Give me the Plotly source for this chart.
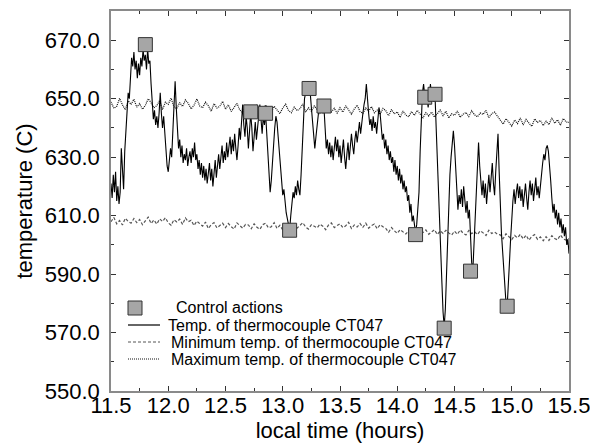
import plotly.graph_objects as go

# ---------------- data ----------------
# Temperature of thermocouple CT047, sampled every 0.01 h from 11.50 h; one row = 0.1 h
temp_rows = [
    [621, 616, 624, 618, 625, 615, 620, 614, 618, 633],  # 11.5
    [626, 619, 632, 640, 646, 652, 650, 658, 664, 661],  # 11.6
    [666, 660, 663, 657, 662, 658, 664, 661, 667, 663],  # 11.7
    [665, 660, 667, 662, 663, 655, 647, 643, 646, 641],  # 11.8
    [644, 640, 645, 652, 645, 640, 644, 637, 631, 627],  # 11.9
    [625, 629, 633, 630, 638, 645, 656, 647, 638, 633],  # 12.0
    [636, 630, 634, 628, 631, 629, 633, 627, 630, 632],  # 12.1
    [628, 633, 630, 635, 629, 631, 626, 629, 624, 628],  # 12.2
    [623, 627, 622, 626, 621, 624, 628, 622, 626, 620],  # 12.3
    [625, 629, 623, 627, 631, 626, 630, 634, 628, 632],  # 12.4
    [629, 635, 630, 633, 637, 631, 636, 632, 638, 633],  # 12.5
    [629, 634, 640, 636, 643, 648, 641, 637, 644, 640],  # 12.6
    [633, 638, 645, 640, 632, 637, 642, 636, 641, 646],  # 12.7
    [648, 643, 638, 644, 641, 645, 637, 630, 624, 618],  # 12.8
    [622, 629, 636, 640, 644, 642, 637, 631, 626, 621],  # 12.9
    [617, 619, 614, 611, 609, 607, 605, 610, 614, 618],  # 13.0
    [616, 620, 617, 622, 619, 617, 624, 635, 645, 650],  # 13.1
    [652, 655, 656, 654, 652, 647, 642, 636, 633, 637],  # 13.2
    [641, 645, 648, 646, 649, 645, 647, 640, 633, 636],  # 13.3
    [631, 635, 630, 634, 629, 633, 637, 632, 636, 630],  # 13.4
    [634, 628, 632, 636, 630, 626, 631, 635, 629, 633],  # 13.5
    [638, 634, 631, 636, 639, 635, 640, 642, 638, 643],  # 13.6
    [645, 648, 650, 655, 649, 645, 641, 643, 639, 644],  # 13.7
    [640, 642, 638, 644, 647, 645, 640, 636, 638, 633],  # 13.8
    [636, 631, 634, 629, 632, 628, 630, 625, 629, 624],  # 13.9
    [627, 622, 626, 621, 624, 619, 622, 618, 620, 615],  # 14.0
    [617, 611, 614, 608, 610, 606, 604, 607, 612, 618],  # 14.1
    [632, 645, 652, 655, 651, 653, 650, 647, 651, 655],  # 14.2
    [650, 653, 649, 651, 640, 628, 618, 608, 597, 587],  # 14.3
    [577, 572, 578, 590, 603, 615, 624, 630, 636, 639],  # 14.4
    [634, 626, 618, 612, 617, 614, 619, 613, 620, 616],  # 14.5
    [611, 615, 609, 612, 603, 594, 591, 600, 610, 622],  # 14.6
    [629, 635, 627, 620, 617, 622, 616, 621, 614, 619],  # 14.7
    [624, 618, 622, 628, 621, 617, 625, 631, 638, 625],  # 14.8
    [612, 604, 598, 592, 585, 580, 579, 585, 594, 602],  # 14.9
    [610, 615, 619, 614, 618, 621, 616, 620, 615, 619],  # 15.0
    [613, 617, 621, 616, 612, 618, 622, 617, 621, 615],  # 15.1
    [619, 623, 617, 620, 616, 621, 625, 628, 631, 629],  # 15.2
    [633, 634, 632, 628, 622, 616, 611, 614, 609, 612],  # 15.3
    [607, 611, 606, 609, 604, 607, 603, 606, 600, 602],  # 15.4
    [597],                                               # 15.5
]
temp_start, temp_step = 11.5, 0.01

# Maximum temperature of CT047, every 0.025 h from 11.5 h; one row = 0.2 h
max_rows = [
    [648.9, 646.7, 647.4, 650.1, 647.9, 646.2, 649.3, 648.0],  # 11.5
    [649.8, 647.1, 648.3, 646.4, 647.7, 650.0, 648.6, 646.9],  # 11.7
    [647.6, 649.4, 646.3, 648.8, 648.1, 650.2, 647.2, 646.6],  # 11.9
    [648.7, 647.3, 649.6, 648.4, 646.5, 647.8, 649.9, 647.5],  # 12.1
    [646.9, 648.8, 647.6, 645.7, 648.3, 646.8, 647.4, 649.1],  # 12.3
    [646.4, 647.9, 645.6, 646.8, 648.4, 646.1, 645.3, 647.6],  # 12.5
    [647.2, 645.4, 646.9, 648.0, 646.3, 645.7, 647.8, 646.5],  # 12.7
    [645.6, 647.4, 646.2, 644.9, 646.8, 648.1, 646.0, 645.2],  # 12.9
    [647.1, 645.9, 646.6, 648.2, 645.4, 646.9, 645.7, 647.5],  # 13.1
    [646.3, 644.8, 647.2, 646.0, 647.9, 645.5, 646.7, 645.1],  # 13.3
    [646.9, 645.4, 647.6, 646.2, 644.7, 646.5, 647.8, 645.6],  # 13.5
    [645.0, 646.8, 645.7, 647.3, 645.2, 646.1, 644.6, 646.7],  # 13.7
    [645.9, 644.2, 646.3, 644.8, 645.5, 643.6, 645.8, 644.4],  # 13.9
    [643.8, 645.6, 644.3, 646.0, 644.7, 643.5, 645.2, 644.1],  # 14.1
    [645.4, 643.7, 644.9, 646.1, 644.2, 645.7, 643.4, 644.8],  # 14.3
    [644.3, 645.8, 643.6, 644.7, 645.3, 643.9, 645.9, 644.5],  # 14.5
    [643.8, 645.1, 644.6, 646.0, 643.5, 644.9, 645.4, 643.9],  # 14.7
    [642.8, 641.3, 643.2, 642.0, 640.6, 642.7, 641.5, 643.4],  # 14.9
    [641.0, 642.9, 641.7, 640.5, 643.1, 641.9, 642.6, 640.8],  # 15.1
    [642.3, 641.1, 643.5, 641.6, 642.8, 640.9, 643.2, 642.0],  # 15.3
    [641.9],                                                   # 15.5
]
# Minimum temperature of CT047, same sampling
min_rows = [
    [607.9, 609.4, 607.2, 608.3, 606.8, 609.1, 608.0, 607.4],  # 11.5
    [609.0, 607.6, 608.7, 606.9, 608.2, 609.5, 607.3, 608.5],  # 11.7
    [607.1, 608.9, 608.0, 609.3, 607.5, 606.7, 608.6, 607.8],  # 11.9
    [608.8, 607.0, 609.2, 607.9, 608.4, 606.6, 608.1, 607.3],  # 12.1
    [606.4, 607.8, 605.6, 606.9, 607.6, 605.8, 606.5, 607.4],  # 12.3
    [605.9, 607.3, 606.2, 605.4, 607.5, 606.6, 605.7, 607.0],  # 12.5
    [606.8, 605.5, 607.2, 606.0, 605.3, 606.9, 607.4, 605.8],  # 12.7
    [606.2, 607.6, 605.6, 606.7, 605.1, 606.4, 607.3, 605.9],  # 12.9
    [607.0, 605.7, 606.5, 607.6, 606.1, 605.4, 606.9, 606.3],  # 13.1
    [605.8, 607.1, 606.4, 605.2, 606.8, 607.5, 605.9, 606.6],  # 13.3
    [607.2, 605.9, 606.5, 607.7, 605.6, 606.8, 606.1, 607.3],  # 13.5
    [606.0, 607.4, 605.7, 606.6, 607.1, 605.5, 606.9, 606.2],  # 13.7
    [605.6, 604.3, 605.9, 604.8, 603.9, 605.2, 604.5, 603.7],  # 13.9
    [604.9, 603.4, 604.6, 605.3, 603.8, 604.2, 605.1, 603.6],  # 14.1
    [604.4, 605.2, 603.5, 604.8, 603.9, 605.0, 604.1, 603.3],  # 14.3
    [604.7, 603.6, 605.1, 604.0, 603.4, 604.9, 603.8, 604.5],  # 14.5
    [603.5, 604.8, 604.1, 603.2, 605.0, 603.9, 604.4, 603.6],  # 14.7
    [603.4, 602.1, 603.8, 602.6, 601.8, 603.2, 602.4, 603.6],  # 14.9
    [602.0, 603.3, 601.6, 602.9, 603.5, 601.9, 602.7, 601.4],  # 15.1
    [602.8, 601.5, 603.1, 602.2, 601.7, 603.4, 602.0, 601.6],  # 15.3
    [602.2],                                                   # 15.5
]
band_start, band_step = 11.5, 0.025

# Control actions
ctrl_time = [11.80, 12.72, 12.85, 13.06, 13.23, 13.36, 14.16, 14.24, 14.33, 14.41, 14.64, 14.96]
ctrl_temp = [668.5, 645.5, 645.0, 605.0, 653.5, 647.5, 603.5, 650.5, 651.5, 571.5, 591.0, 579.0]

y_ticks = [550, 570, 590, 610, 630, 650, 670]
x_ticks = [11.5, 12.0, 12.5, 13.0, 13.5, 14.0, 14.5, 15.0, 15.5]

legend_labels = ["Control actions",
                 "Temp. of thermocouple CT047",
                 "Minimum temp. of thermocouple CT047",
                 "Maximum temp. of thermocouple CT047"]

# ---------------- build series ----------------
def flatten(rows):
    return [v for r in rows for v in r]

temp_v = flatten(temp_rows)
temp_t = [round(temp_start + temp_step * i, 3) for i in range(len(temp_v))]
max_v = flatten(max_rows)
max_t = [round(band_start + band_step * i, 4) for i in range(len(max_v))]
min_v = flatten(min_rows)
min_t = [round(band_start + band_step * i, 4) for i in range(len(min_v))]

FONT = "Liberation Sans, Arial, sans-serif"

MAX_LINE = dict(color="#111111", width=1.2, dash="1px,1px")
MIN_LINE = dict(color="#555555", width=1.2, dash="3px,2px")

fig = go.Figure()
fig.add_trace(go.Scatter(x=max_t, y=max_v, mode="lines", line=MAX_LINE, showlegend=False))
fig.add_trace(go.Scatter(x=min_t, y=min_v, mode="lines", line=MIN_LINE, showlegend=False))
fig.add_trace(go.Scatter(x=temp_t, y=temp_v, mode="lines",
                         line=dict(color="black", width=1.1), showlegend=False))
fig.add_trace(go.Scatter(x=ctrl_time, y=ctrl_temp, mode="markers",
                         marker=dict(symbol="square", size=14, color="#a6a6a6",
                                     line=dict(color="#333333", width=1)),
                         showlegend=False))

# ---------------- custom legend (paper coordinates) ----------------
L, T, W, H = 111, 11, 458, 380
def px(xp):
    return (xp - L) / W
def py(yp):
    return (T + H - yp) / H

fig.add_shape(type="rect", xref="paper", yref="paper",
              x0=px(128), x1=px(142), y0=py(315), y1=py(301),
              fillcolor="#a6a6a6", line=dict(color="#333333", width=1))
leg_rows = [
    (307, 175, None),
    (325, 167, dict(color="black", width=1.2)),
    (342, 170, dict(color="#555555", width=1, dash="3px,2px")),
    (359, 170, dict(color="#111111", width=1, dash="1px,1px")),
]
for (yy, tx, ln), lab in zip(leg_rows, legend_labels):
    if ln is not None:
        fig.add_shape(type="line", xref="paper", yref="paper",
                      x0=px(128), x1=px(160), y0=py(yy), y1=py(yy), line=ln)
    fig.add_annotation(xref="paper", yref="paper", x=px(tx), y=py(yy),
                       xanchor="left", yanchor="middle", showarrow=False,
                       borderpad=0, text=lab,
                       font=dict(family=FONT, size=16, color="black"))

axis_common = dict(showline=True, linecolor="#8a8a8a", linewidth=1.5, mirror="ticks",
                   ticks="inside", ticklen=5, tickcolor="#333333", tickwidth=1,
                   showgrid=False, zeroline=False, automargin=False,
                   ticklabeloverflow="allow",
                   tickfont=dict(family=FONT, size=22, color="black"))

fig.update_xaxes(range=[11.5, 15.5], tickvals=x_ticks, tickformat=".1f",
                 ticklabelstandoff=-6,
                 minor=dict(dtick=0.25, ticks="inside", ticklen=3, tickcolor="#333333"),
                 title=dict(text="local time (hours)", standoff=5,
                            font=dict(family=FONT, size=22, color="black")),
                 **axis_common)
fig.update_yaxes(range=[550, 680], tickvals=y_ticks, tickformat=".1f",
                 minor=dict(dtick=10, ticks="inside", ticklen=3, tickcolor="#333333"),
                 ticklabelstandoff=5,
                 title=dict(text="temperature (C)", standoff=6,
                            font=dict(family=FONT, size=22, color="black")),
                 **axis_common)

fig.update_layout(width=590, height=443,
                  margin=dict(l=L, r=590 - L - W, t=T, b=443 - T - H),
                  paper_bgcolor="white", plot_bgcolor="white",
                  showlegend=False)

fig.write_html("out.html",
               post_script="document.documentElement.style.overflow='hidden';"
                           "document.body.style.overflow='hidden';")
